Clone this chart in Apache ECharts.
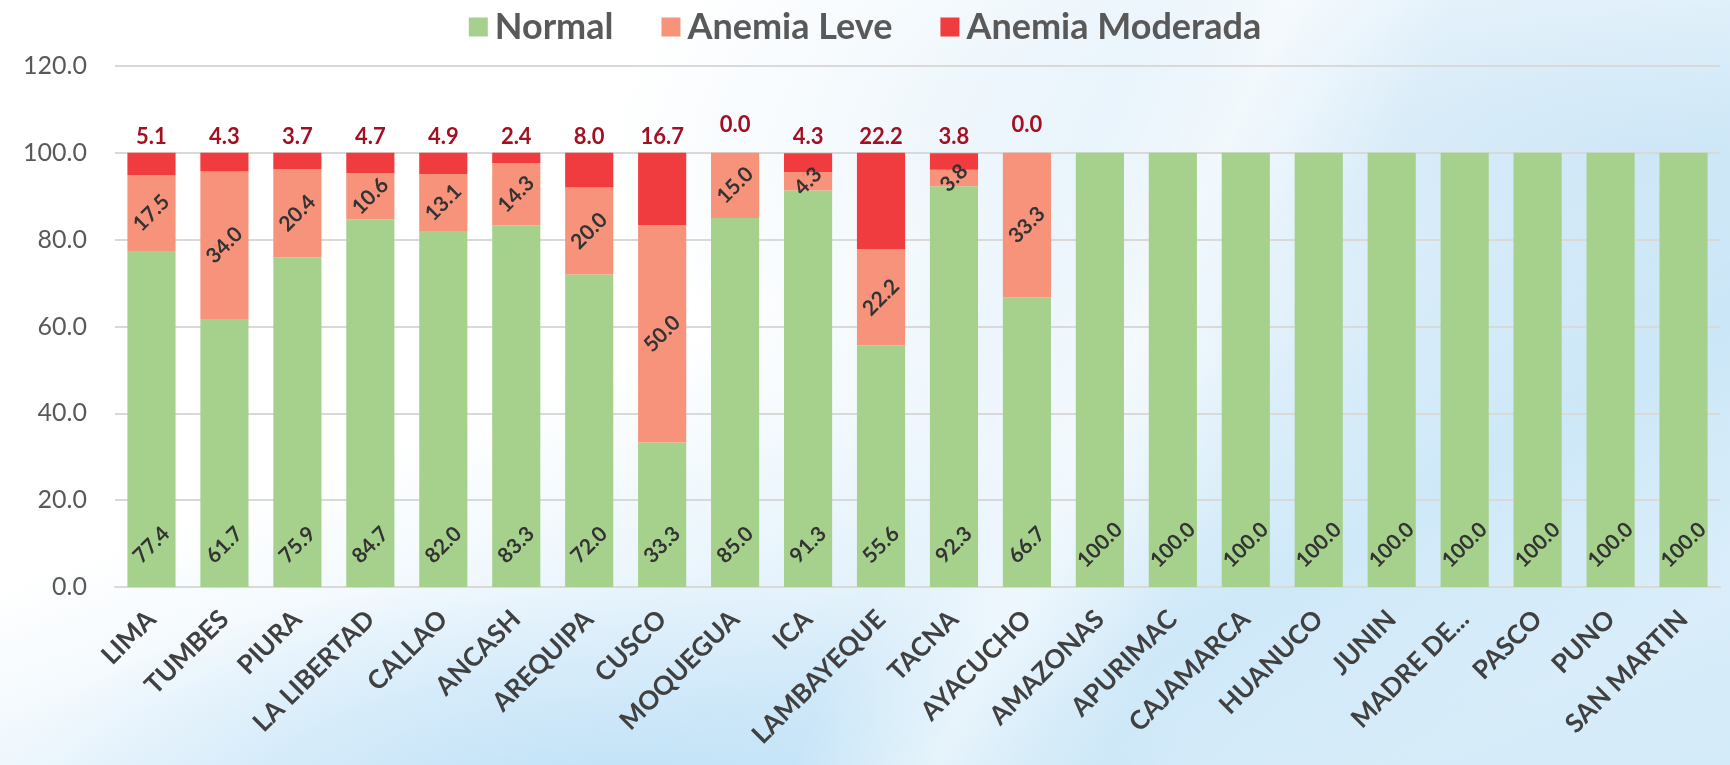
<!DOCTYPE html>
<html>
<head>
<meta charset="utf-8">
<script src="https://cdn.jsdelivr.net/npm/echarts@6/dist/echarts.min.js"></script>
<style>
html,body{margin:0;padding:0;width:1730px;height:765px;overflow:hidden;}
body{
  background:
    linear-gradient(115deg, rgba(255,255,255,0) 55%, rgba(255,255,255,0.55) 62%, rgba(255,255,255,0) 70%),
    linear-gradient(150deg, rgba(255,255,255,0) 60%, rgba(190,225,245,0.5) 75%, rgba(255,255,255,0) 90%),
    radial-gradient(ellipse 35% 30% at 35% 105%, rgba(185,222,246,0.85) 0%, rgba(185,222,246,0) 100%),
    radial-gradient(ellipse at 95% 20%, #cfe7f7 0%, rgba(207,231,247,0) 45%),
    linear-gradient(160deg, #ffffff 0%, #ffffff 42%, #e6f3fc 62%, #d3eaf9 100%);
}
#c{width:1730px;height:765px;}
</style>
</head>
<body>
<div id="c"></div>
<script>
const categories = ["LIMA","TUMBES","PIURA","LA LIBERTAD","CALLAO","ANCASH","AREQUIPA","CUSCO","MOQUEGUA","ICA","LAMBAYEQUE","TACNA","AYACUCHO","AMAZONAS","APURIMAC","CAJAMARCA","HUANUCO","JUNIN","MADRE DE...","PASCO","PUNO","SAN MARTIN"];
const normal   = [77.4, 61.7, 75.9, 84.7, 82.0, 83.3, 72.0, 33.3, 85.0, 91.3, 55.6, 92.3, 66.7, 100, 100, 100, 100, 100, 100, 100, 100, 100];
const leve     = [17.5, 34.0, 20.4, 10.6, 13.1, 14.3, 20.0, 50.0, 15.0, 4.3, 22.2, 3.8, 33.3, null, null, null, null, null, null, null, null, null];
const moderada = [5.1, 4.3, 3.7, 4.7, 4.9, 2.4, 8.0, 16.7, 0.0, 4.3, 22.2, 3.8, 0.0, null, null, null, null, null, null, null, null, null];
const yTicks = [0, 20, 40, 60, 80, 100, 120];

const FONT = "Lato, 'Open Sans', sans-serif";
const fmt = p => (p.value == null ? '' : Number(p.value).toFixed(1));

const chart = echarts.init(document.getElementById('c'), null, {renderer:'canvas'});
chart.setOption({
  backgroundColor: 'transparent',
  animation: false,
  textStyle: {fontFamily: FONT},
  legend: {
    top: 4,
    left: 'center',
    itemWidth: 19,
    itemHeight: 19,
    itemGap: 48,
    icon: 'rect',
    textStyle: {fontSize: 36, fontWeight: 'bold', color: '#595959', fontFamily: FONT, padding:[0,0,0,2]},
    data: ['Normal','Anemia Leve','Anemia Moderada']
  },
  grid: {left: 115, right: 10, top: 66, bottom: 178, containLabel: false},
  xAxis: {
    type: 'category',
    data: categories,
    axisLine: {show: true, lineStyle: {color: '#d9d9d9', width: 2}},
    axisTick: {show: false},
    axisLabel: {interval: 0, rotate: 45, margin: 28, padding: [27, 0, 0, 0], fontSize: 26, fontWeight: 'bold', color: '#404040', fontFamily: FONT}
  },
  yAxis: {
    type: 'value',
    min: yTicks[0],
    max: yTicks[yTicks.length-1],
    interval: yTicks[1]-yTicks[0],
    axisLine: {show: false},
    axisTick: {show: false},
    axisLabel: {margin: 28, fontSize: 25, color: '#595959', fontFamily: FONT, formatter: v => v.toFixed(1)},
    splitLine: {lineStyle: {color: '#d9d9d9', width: 2}}
  },
  series: [
    {
      name: 'Normal', type: 'bar', stack: 'a', barCategoryGap: '34%',
      itemStyle: {color: '#a6d18c'},
      data: normal,
      label: {show: true, position: 'insideBottom', distance: 0, rotate: 45, align: 'center', verticalAlign: 'middle',
              offset: [29.7, -29.7], fontSize: 21, fontWeight: 'bold', color: '#333333', fontFamily: FONT, formatter: fmt}
    },
    {
      name: 'Anemia Leve', type: 'bar', stack: 'a',
      itemStyle: {color: '#f7937b'},
      data: leve,
      label: {show: true, position: 'inside', rotate: 45, fontSize: 21, fontWeight: 'bold', color: '#333333', fontFamily: FONT, formatter: fmt}
    },
    {
      name: 'Anemia Moderada', type: 'bar', stack: 'a',
      itemStyle: {color: '#f03c3e'},
      data: moderada.map(v => v === 0 ? {value: v, label: {offset: [0, -12]}} : v),
      label: {show: true, position: 'top', distance: 5, fontSize: 22, fontWeight: 'bold', color: '#a50f22', fontFamily: FONT, formatter: fmt}
    }
  ]
});
</script>
</body>
</html>
